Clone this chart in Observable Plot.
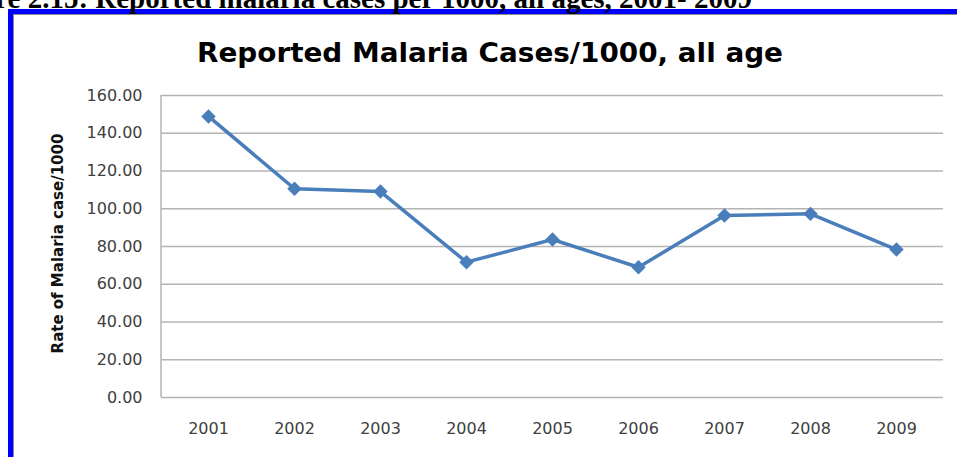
<!DOCTYPE html>
<html>
<head>
<meta charset="utf-8">
<script src="https://cdn.jsdelivr.net/npm/d3@7"></script>
<script src="https://cdn.jsdelivr.net/npm/@observablehq/plot@0.6"></script>
<style>
  html, body { margin: 0; padding: 0; background: #ffffff; overflow: hidden; width: 957px; height: 457px; }
  #page { position: relative; width: 957px; height: 457px; overflow: hidden; background: #ffffff; }
  #frame { position: absolute; left: 8px; top: 9px; width: 1000px; height: 500px;
           border-left: 5px solid #0000ff; border-top: 5px solid #0000ff; }
  #inner { position: absolute; left: 0; top: 0; width: 1000px; height: 500px;
           border-left: 1.5px solid #8c8c8c; border-top: 1.5px solid #8c8c8c; }
  #deco { position: absolute; left: 0; top: 0; }
  #chart { position: absolute; left: 0; top: 0; }
</style>
</head>
<body>
<div id="page">
  <div id="frame"><div id="inner"></div></div>
  <div id="chart"></div>
</div>
<script>
// ---- data ----
const years = ["2001", "2002", "2003", "2004", "2005", "2006", "2007", "2008", "2009"];
const rates = [148.9, 110.6, 109.1, 71.7, 83.7, 69.0, 96.4, 97.3, 78.4];
const yTicks = [0, 20, 40, 60, 80, 100, 120, 140, 160];
const captionText = "Figure 2.15: Reported malaria cases per 1000, all ages, 2001- 2009";
const titleText = "Reported Malaria Cases/1000, all age";
const yLabelText = "Rate of Malaria case/1000";

const data = years.map((y, i) => ({year: y, rate: rates[i]}));

const W = 957, H = 457;
const lineColor = "#4a7ebb";

const leftAxisLine = (index, scales, values, dims) => {
  const l = d3.create("svg:line")
    .attr("x1", dims.marginLeft).attr("x2", dims.marginLeft)
    .attr("y1", dims.marginTop).attr("y2", dims.height - dims.marginBottom)
    .attr("stroke", "#b4b4b4").attr("stroke-width", 1.5);
  return l.node();
};

const chart = Plot.plot({
  width: W,
  height: H,
  marginLeft: 161,
  marginRight: 14,
  marginTop: 95,
  marginBottom: 60,
  style: {background: "transparent", fontFamily: "DejaVu Sans", fontSize: "16px", overflow: "visible"},
  x: {type: "point", domain: years, padding: 0.5},
  y: {domain: [0, 160]},
  marks: [
    Plot.ruleY(yTicks, {stroke: "#b4b4b4", strokeWidth: 1.5}),
    leftAxisLine,
    Plot.axisY({ticks: yTicks, tickSize: 0, tickPadding: 19, tickFormat: d => d.toFixed(2),
                fontSize: 16, fill: "#404040", label: null}),
    Plot.axisX({tickSize: 0, tickPadding: 25, fontSize: 16, fill: "#404040", label: null}),
    Plot.line(data, {x: "year", y: "rate", stroke: lineColor, strokeWidth: 3.5}),
    Plot.dot(data, {x: "year", y: "rate", symbol: "diamond2", r: 6.5, fill: lineColor, stroke: "none"}),
    Plot.text([yLabelText], {text: d => d, frameAnchor: "left", dx: -103, dy: -3, rotate: -90,
                textAnchor: "middle", lineAnchor: "middle", fontSize: 15, fontWeight: "bold", fill: "#111111"})
  ]
});
document.getElementById("chart").appendChild(chart);

// caption (cut off at top, as in the reference) and chart title
const deco = d3.select("#page").append("svg")
  .attr("id", "deco").attr("width", W).attr("height", H)
  .style("pointer-events", "none");

deco.append("text")
  .attr("x", 752).attr("y", 7.5)
  .attr("text-anchor", "end")
  .attr("font-family", "Liberation Serif")
  .attr("font-weight", "bold")
  .attr("font-size", 29)
  .attr("fill", "#000000")
  .text(captionText);

deco.append("text")
  .attr("x", 490).attr("y", 62)
  .attr("text-anchor", "middle")
  .attr("font-family", "DejaVu Sans")
  .attr("font-weight", "bold")
  .attr("font-size", 26)
  .attr("textLength", 586)
  .attr("lengthAdjust", "spacingAndGlyphs")
  .attr("fill", "#000000")
  .text(titleText);
</script>
</body>
</html>
